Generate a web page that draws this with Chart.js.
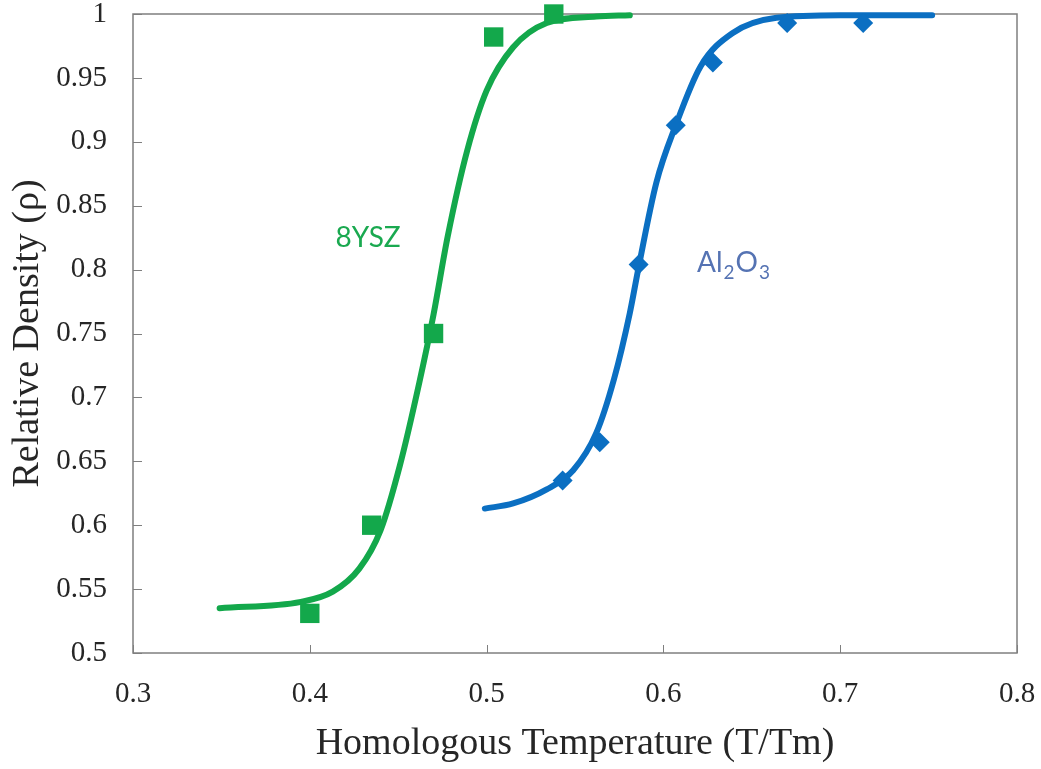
<!DOCTYPE html>
<html>
<head>
<meta charset="utf-8">
<script src="https://cdn.jsdelivr.net/npm/chart.js@4/dist/chart.umd.min.js"></script>
<style>
  html, body { margin: 0; padding: 0; background: #fff; }
  #wrap { width: 1041px; height: 769px; position: relative; }
</style>
</head>
<body>
<div id="wrap"><canvas id="densityChart"></canvas></div>
<script>
// measured points
const yszT = [0.400, 0.435, 0.470, 0.504, 0.538];
const yszRho = [0.531, 0.600, 0.750, 0.982, 1.000];
const alT = [0.543, 0.564, 0.586, 0.607, 0.628, 0.670, 0.713];
const alRho = [0.635, 0.665, 0.804, 0.913, 0.962, 0.993, 0.993];

// fitted densification curves
const yszFitT = [0.349, 0.395, 0.413, 0.428, 0.440, 0.451, 0.462, 0.470, 0.478, 0.489, 0.500, 0.515, 0.534, 0.562, 0.581];
const yszFitRho = [0.535, 0.540, 0.548, 0.566, 0.596, 0.647, 0.712, 0.765, 0.826, 0.893, 0.940, 0.974, 0.993, 0.998, 0.999];
const alFitT = [0.499, 0.515, 0.534, 0.549, 0.562, 0.572, 0.581, 0.586, 0.596, 0.607, 0.621, 0.639, 0.664, 0.700, 0.752];
const alFitRho = [0.613, 0.617, 0.628, 0.643, 0.672, 0.714, 0.766, 0.802, 0.868, 0.913, 0.959, 0.985, 0.997, 0.999, 0.999];

const xTicks = [0.3, 0.4, 0.5, 0.6, 0.7, 0.8];
const yTicks = [0.5, 0.55, 0.6, 0.65, 0.7, 0.75, 0.8, 0.85, 0.9, 0.95, 1];

const GREEN = '#13a84b';
const BLUE = '#0b6fc2';
const SERIF = '"Liberation Serif", "Times New Roman", serif';

const pairs = (xs, ys) => xs.map((x, i) => ({ x, y: ys[i] }));
const fmt = v => String(Number(v.toFixed(2)));

// frame with inward tick marks, plus the two material labels
const framePlugin = {
  id: 'frame',
  beforeDatasetsDraw(chart) {
    const { ctx, chartArea: a, scales: { x, y } } = chart;
    ctx.save();
    ctx.strokeStyle = '#7f7f7f';
    ctx.lineWidth = 1.5;
    ctx.strokeRect(a.left, a.top, a.right - a.left, a.bottom - a.top);
    ctx.lineWidth = 1;
    ctx.beginPath();
    yTicks.forEach(v => {
      const py = Math.round(y.getPixelForValue(v)) + 0.5;
      ctx.moveTo(a.left, py); ctx.lineTo(a.left + 9, py);
    });
    xTicks.forEach(v => {
      const px = Math.round(x.getPixelForValue(v)) + 0.5;
      ctx.moveTo(px, a.bottom); ctx.lineTo(px, a.bottom - 8);
    });
    ctx.stroke();
    ctx.restore();
  },
  afterDraw(chart) {
    const { ctx, scales: { x, y } } = chart;
    ctx.save();
    ctx.textBaseline = 'alphabetic';
    ctx.fillStyle = '#1aa950';
    ctx.font = '28px Lato, "Open Sans", sans-serif';
    ctx.textAlign = 'center';
    ctx.fillText('8YSZ', x.getPixelForValue(0.433), y.getPixelForValue(0.818));

    // Al2O3 with subscripts
    ctx.fillStyle = '#5573b3';
    ctx.textAlign = 'left';
    let px = x.getPixelForValue(0.619);
    const base = y.getPixelForValue(0.798);
    const parts = [['Al', 28, 0], ['2', 19, 7], ['O', 28, 0], ['3', 19, 7]];
    parts.forEach(([t, size, drop]) => {
      ctx.font = size + 'px Lato, "Open Sans", sans-serif';
      ctx.fillText(t, px, base + drop);
      px += ctx.measureText(t).width + 1;
    });
    ctx.restore();
  }
};

new Chart(document.getElementById('densityChart'), {
  type: 'line',
  data: {
    datasets: [
      {
        label: '8YSZ data', type: 'scatter', data: pairs(yszT, yszRho),
        pointStyle: 'rect', pointRadius: 13.7, pointHoverRadius: 13.7,
        backgroundColor: GREEN, borderColor: GREEN, borderWidth: 0, clip: false, order: 0
      },
      {
        label: 'Al2O3 data', type: 'scatter', data: pairs(alT, alRho),
        pointStyle: 'rectRot', pointRadius: 10, pointHoverRadius: 10,
        backgroundColor: BLUE, borderColor: BLUE, borderWidth: 0, clip: false, order: 0
      },
      {
        label: '8YSZ fit', data: pairs(yszFitT, yszFitRho),
        borderColor: GREEN, borderWidth: 6, pointRadius: 0, fill: false,
        cubicInterpolationMode: 'monotone', borderCapStyle: 'round', clip: false, order: 1
      },
      {
        label: 'Al2O3 fit', data: pairs(alFitT, alFitRho),
        borderColor: BLUE, borderWidth: 6, pointRadius: 0, fill: false,
        cubicInterpolationMode: 'monotone', borderCapStyle: 'round', clip: false, order: 1
      }
    ]
  },
  options: {
    responsive: true,
    maintainAspectRatio: false,
    animation: false,
    layout: { padding: { top: 14, right: 24, left: 0, bottom: 0 } },
    plugins: { legend: { display: false }, tooltip: { enabled: false } },
    scales: {
      x: {
        type: 'linear', min: 0.3, max: 0.8,
        afterBuildTicks: s => { s.ticks = xTicks.map(value => ({ value })); },
        afterFit: s => { s.height = 116; s.paddingLeft = 0; s.paddingRight = 0; },
        grid: { display: false }, border: { display: false },
        ticks: { padding: 16, color: '#262626', font: { family: SERIF, size: 29 }, callback: v => fmt(v), maxRotation: 0 },
        title: {
          display: true, text: 'Homologous Temperature (T/Tm)', color: '#262626',
          font: { family: SERIF, size: 38 }, padding: { top: 0, bottom: 2 }
        }
      },
      y: {
        type: 'linear', min: 0.5, max: 1,
        afterBuildTicks: s => { s.ticks = yTicks.map(value => ({ value })); },
        afterFit: s => { s.width = 133; s.paddingTop = 0; s.paddingBottom = 0; },
        grid: { display: false }, border: { display: false },
        ticks: { padding: 18, color: '#262626', font: { family: SERIF, size: 29 }, callback: v => fmt(v) },
        title: {
          display: true, text: 'Relative Density (\u03c1)', color: '#262626',
          font: { family: SERIF, size: 38 }, padding: { top: 5, bottom: 0 }
        }
      }
    }
  },
  plugins: [framePlugin]
});
</script>
</body>
</html>
